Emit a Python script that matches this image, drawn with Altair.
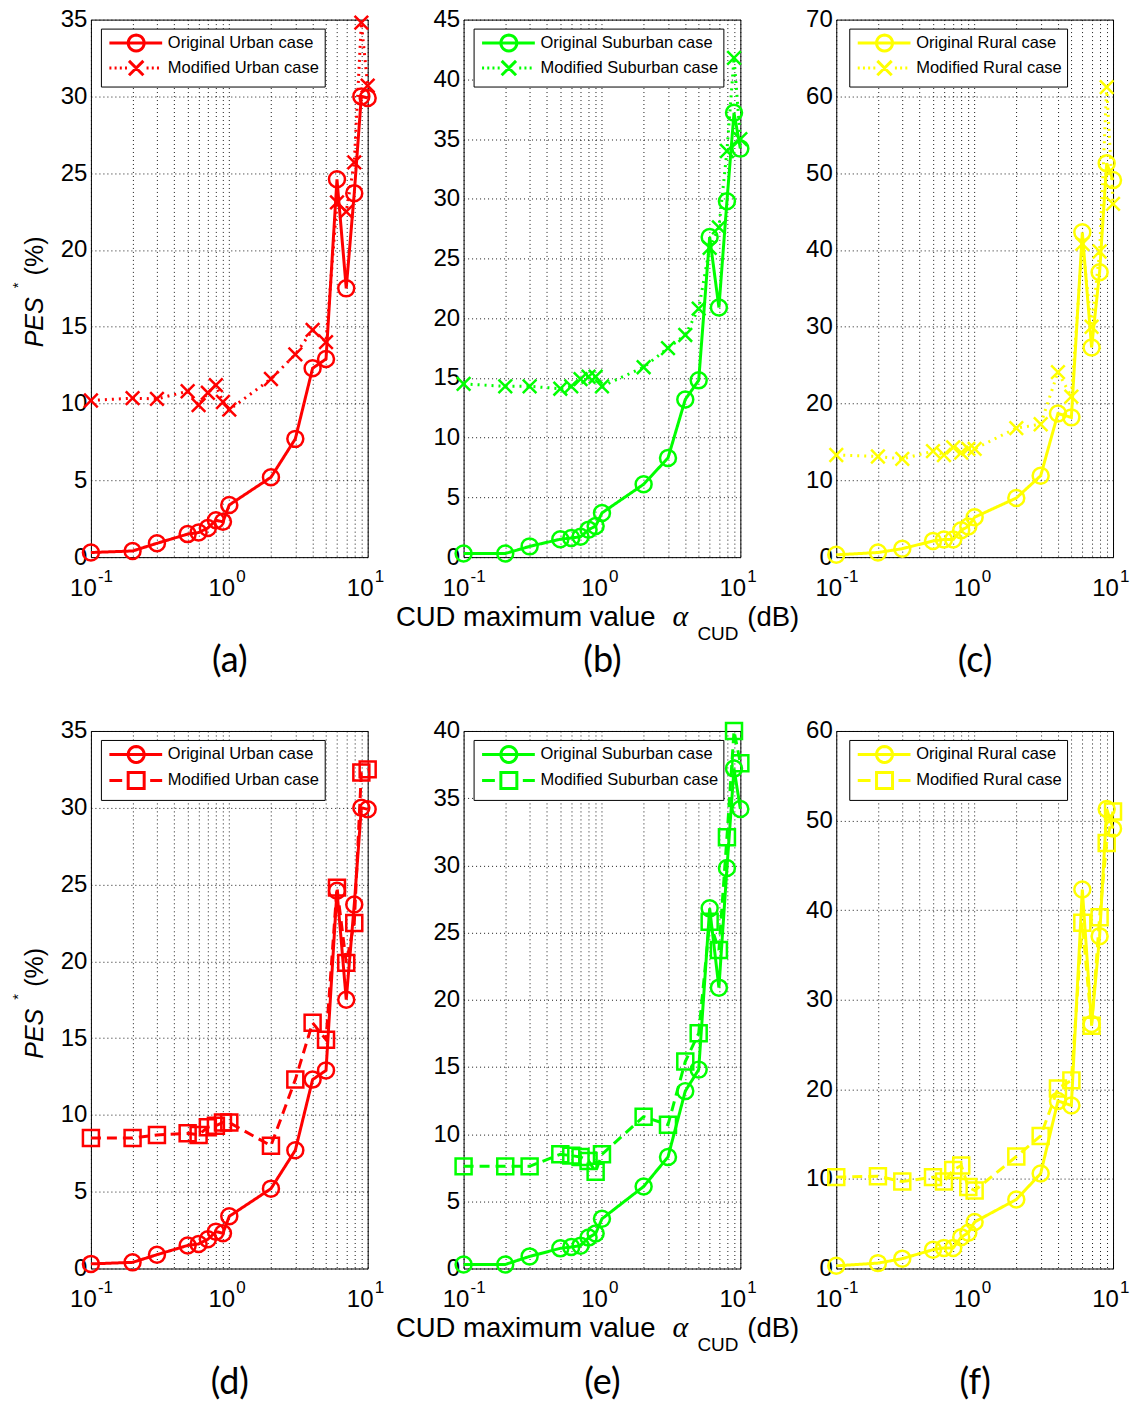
import math
import altair as alt
import pandas as pd

# ---------------- data ----------------
X = [0.1, 0.2, 0.3, 0.5, 0.6, 0.7, 0.8, 0.9, 1, 2, 3, 4, 5, 6, 7, 8, 9, 10]

URBAN_ORIG = [0.3, 0.4, 0.9, 1.5, 1.6, 1.9, 2.4, 2.3, 3.4, 5.2, 7.7, 12.3, 12.9, 24.6, 17.5, 23.7, 30.0, 29.9]
URBAN_MOD_DOT = [10.2, 10.35, 10.3, 10.8, 9.9, 10.7, 11.2, 10.1, 9.6, 11.6, 13.2, 14.8, 14.0, 23.1, 22.5, 25.7, 34.8, 30.7]
URBAN_MOD_DASH = [8.5, 8.5, 8.7, 8.8, 8.7, 9.2, 9.3, 9.5, 9.5, 8.0, 12.3, 16.0, 14.9, 24.8, 19.9, 22.5, 32.3, 32.5]

SUB_ORIG = [0.3, 0.3, 0.9, 1.5, 1.6, 1.7, 2.3, 2.6, 3.7, 6.1, 8.3, 13.2, 14.8, 26.8, 20.9, 29.8, 37.2, 34.2]
SUB_MOD_DOT = [14.5, 14.3, 14.3, 14.1, 14.3, 14.9, 15.1, 15.1, 14.3, 15.9, 17.5, 18.6, 20.8, 25.9, 27.6, 34.0, 41.8, 35.0]
SUB_MOD_DASH = [7.6, 7.6, 7.6, 8.5, 8.4, 8.3, 8.0, 7.2, 8.5, 11.3, 10.7, 15.4, 17.5, 25.8, 23.7, 32.1, 40.0, 37.6]

RUR_ORIG = [0.3, 0.6, 1.1, 2.1, 2.3, 2.3, 3.5, 4.0, 5.2, 7.7, 10.6, 18.7, 18.2, 42.3, 27.3, 37.1, 51.3, 49.1]
RUR_MOD_DOT = [13.3, 13.1, 12.8, 13.8, 13.3, 14.3, 13.6, 14.1, 14.1, 16.8, 17.3, 24.1, 20.9, 40.8, 30.0, 39.8, 61.2, 46.0]
RUR_MOD_DASH = [10.2, 10.3, 9.7, 10.2, 9.7, 11.0, 11.5, 9.1, 8.7, 12.5, 14.8, 20.1, 21.0, 38.6, 27.1, 39.2, 47.5, 51.0]

X_TICKS = [0.1, 0.2, 0.3, 0.4, 0.5, 0.6, 0.7, 0.8, 0.9, 1, 2, 3, 4, 5, 6, 7, 8, 9, 10]
X_DECADES = [0.1, 1, 10]
X_EXPONENTS = ["-1", "0", "1"]
Y_TICKS_35 = [0, 5, 10, 15, 20, 25, 30, 35]
Y_TICKS_45 = [0, 5, 10, 15, 20, 25, 30, 35, 40, 45]
Y_TICKS_70 = [0, 10, 20, 30, 40, 50, 60, 70]
Y_TICKS_40 = [0, 5, 10, 15, 20, 25, 30, 35, 40]
Y_TICKS_60 = [0, 10, 20, 30, 40, 50, 60]

NAMES_URBAN = ["Original Urban case", "Modified Urban case"]
NAMES_SUB = ["Original Suburban case", "Modified Suburban case"]
NAMES_RUR = ["Original Rural case", "Modified Rural case"]
LETTERS = ["(a)", "(b)", "(c)", "(d)", "(e)", "(f)"]

RED, GREEN, YELLOW = "#ff0000", "#00ff00", "#ffff00"

# ---------------- styling ----------------
W, H = 277, 538
X_PATH = "M-0.85,-0.85L0.85,0.85M-0.85,0.85L0.85,-0.85"

# legend symbols (unit = 8 px): a line segment with the marker drawn on it
MC = 2.6  # marker centre, in symbol units


def _ring(cx, r=1.0, n=24):
    pts = [(cx + r * math.cos(2 * math.pi * i / n), r * math.sin(2 * math.pi * i / n)) for i in range(n)]
    return "M" + "L".join(f"{px:.3f},{py:.3f}" for px, py in pts) + "Z"


LEG_SOLID_CIRCLE = f"M-0.75,0L{MC + 3.25:.3f},0" + _ring(MC)
LEG_DOT_X = ("".join(f"M{s:.3f},0h0.25" for s in [-0.75, -0.1, 0.55, 1.2]) +
             "".join(f"M{s:.3f},0h0.25" for s in [MC + 1.3, MC + 1.95, MC + 2.6]) +
             f"M{MC - 0.9:.3f},-0.9L{MC + 0.9:.3f},0.9M{MC - 0.9:.3f},0.9L{MC + 0.9:.3f},-0.9")
LEG_DASH_SQ = (f"M-0.75,0L{MC - 1.75:.3f},0M{MC + 1.75:.3f},0L{MC + 3.25:.3f},0"
               f"M{MC - 1:.3f},-1L{MC + 1:.3f},-1L{MC + 1:.3f},1L{MC - 1:.3f},1Z")

LABEL_EXPR = "indexof([0.1, 1, 10], datum.value) >= 0 ? '10' : ''"


def txt(s, x, y, **kw):
    return alt.Chart(pd.DataFrame({"t": [s]})).mark_text(**kw).encode(
        x=alt.value(x), y=alt.value(y), text="t:N")


def panel(letter, orig, mod, color, names, mod_dash, mod_shape, leg_mod, yticks,
          left=False, middle=False, title_y=103, legx=10):
    n = len(X)
    df = pd.DataFrame({"x": X * 2, "y": orig + mod,
                       "series": [names[0]] * n + [names[1]] * n})
    xs = alt.X("x:Q", scale=alt.Scale(type="log", domain=[0.1, 10], nice=False),
               axis=alt.Axis(values=X_TICKS, labelExpr=LABEL_EXPR, title=letter,
                             titleY=title_y, titleBaseline="middle",
                             labelBaseline="alphabetic", labelPadding=38, labelOffset=-8,
                             labelOverlap=False, labelFlush=False))
    ys = alt.Y("y:Q", scale=alt.Scale(domain=[0, yticks[-1]], nice=False),
               axis=alt.Axis(values=yticks, title=None, labelPadding=4))
    base = alt.Chart(df)
    lines = base.mark_line(color=color, strokeWidth=3).encode(
        x=xs, y=ys,
        strokeDash=alt.StrokeDash("series:N",
                                  scale=alt.Scale(domain=names, range=[[1, 0], mod_dash]),
                                  legend=None))
    pts = base.mark_point(color=color, filled=False, strokeWidth=2.5, size=256, opacity=1).encode(
        x=xs, y=ys,
        shape=alt.Shape("series:N", scale=alt.Scale(domain=names, range=["circle", mod_shape]),
                        legend=None))
    leg = base.transform_filter("false").mark_point(
        color=color, filled=False, strokeWidth=3, size=256, opacity=1).encode(
        shape=alt.Shape("series:N",
                        scale=alt.Scale(domain=names, range=[LEG_SOLID_CIRCLE, leg_mod]),
                        legend=alt.Legend(title=None, orient="none", legendX=legx, legendY=9,
                                          fillColor="white", strokeColor="black",
                                          padding=5, rowPadding=-3, cornerRadius=0,
                                          labelFont="Liberation Sans", labelFontSize=16.5,
                                          labelColor="black", labelOffset=43, labelLimit=400,
                                          symbolSize=256, symbolStrokeWidth=3,
                                          symbolStrokeColor=color,
                                          symbolFillColor="transparent")))
    sup = alt.Chart(pd.DataFrame({"x": X_DECADES, "e": X_EXPONENTS})).mark_text(
        align="left", baseline="alphabetic", dx=7, font="Liberation Sans", fontSize=17,
        color="black").encode(
        x=alt.X("x:Q", scale=alt.Scale(type="log", domain=[0.1, 10], nice=False)),
        y=alt.value(H + 25), text="e:N")
    layers = [lines, pts, leg, sup]
    if left:
        layers += [
            txt("PES", -48, 328, angle=270, align="left", baseline="alphabetic",
                font="Liberation Sans", fontSize=25, fontStyle="italic", color="black"),
            txt("*", -68, 266, angle=270, align="center", baseline="alphabetic",
                font="Liberation Sans", fontSize=15, color="black"),
            txt("(%)", -48, 256, angle=270, align="left", baseline="alphabetic",
                font="Liberation Sans", fontSize=25, color="black"),
        ]
    if middle:
        layers += [
            txt("CUD maximum value", 192, 607, align="right", baseline="alphabetic",
                font="Liberation Sans", fontSize=27.5, color="black"),
            txt("\u03b1", 209, 607, align="left", baseline="alphabetic",
                font="Liberation Serif", fontSize=30, fontStyle="italic", color="black"),
            txt("CUD", 234, 621, align="left", baseline="alphabetic",
                font="Liberation Sans", fontSize=19, color="black"),
            txt("(dB)", 284, 607, align="left", baseline="alphabetic",
                font="Liberation Sans", fontSize=27.5, color="black"),
        ]
    return alt.layer(*layers).resolve_scale(shape="independent").properties(width=W, height=H)


panels = [
    panel(LETTERS[0], URBAN_ORIG, URBAN_MOD_DOT, RED, NAMES_URBAN, [2, 5], X_PATH, LEG_DOT_X,
          Y_TICKS_35, left=True),
    panel(LETTERS[1], SUB_ORIG, SUB_MOD_DOT, GREEN, NAMES_SUB, [2, 5], X_PATH, LEG_DOT_X,
          Y_TICKS_45, middle=True),
    panel(LETTERS[2], RUR_ORIG, RUR_MOD_DOT, YELLOW, NAMES_RUR, [2, 5], X_PATH, LEG_DOT_X,
          Y_TICKS_70, legx=13),
    panel(LETTERS[3], URBAN_ORIG, URBAN_MOD_DASH, RED, NAMES_URBAN, [10, 6], "square", LEG_DASH_SQ,
          Y_TICKS_35, left=True, title_y=114),
    panel(LETTERS[4], SUB_ORIG, SUB_MOD_DASH, GREEN, NAMES_SUB, [10, 6], "square", LEG_DASH_SQ,
          Y_TICKS_40, middle=True, title_y=114),
    panel(LETTERS[5], RUR_ORIG, RUR_MOD_DASH, YELLOW, NAMES_RUR, [10, 6], "square", LEG_DASH_SQ,
          Y_TICKS_60, title_y=114, legx=13),
]

chart = alt.concat(*panels, columns=3, spacing={"row": 174, "column": 96}, bounds="flush")
chart = chart.resolve_scale(x="independent", y="independent", shape="independent",
                            strokeDash="independent")
chart = chart.resolve_legend(shape="independent").resolve_axis(x="independent", y="independent")
chart = chart.properties(padding={"left": 10, "top": 6, "right": 5, "bottom": 5},
                         background="white")
chart = chart.configure_view(stroke="black", strokeWidth=1).configure_axis(
    domain=False, ticks=False, tickSize=0, grid=True, gridColor="black", gridDash=[1, 3],
    gridOpacity=0.9, gridWidth=1, labelFont="Liberation Sans", labelFontSize=24,
    labelColor="black", titleFont="Lato", titleFontSize=36, titleFontWeight="normal",
    titleColor="black")

chart.save("out.html", embed_options={"renderer": "svg", "actions": False})
